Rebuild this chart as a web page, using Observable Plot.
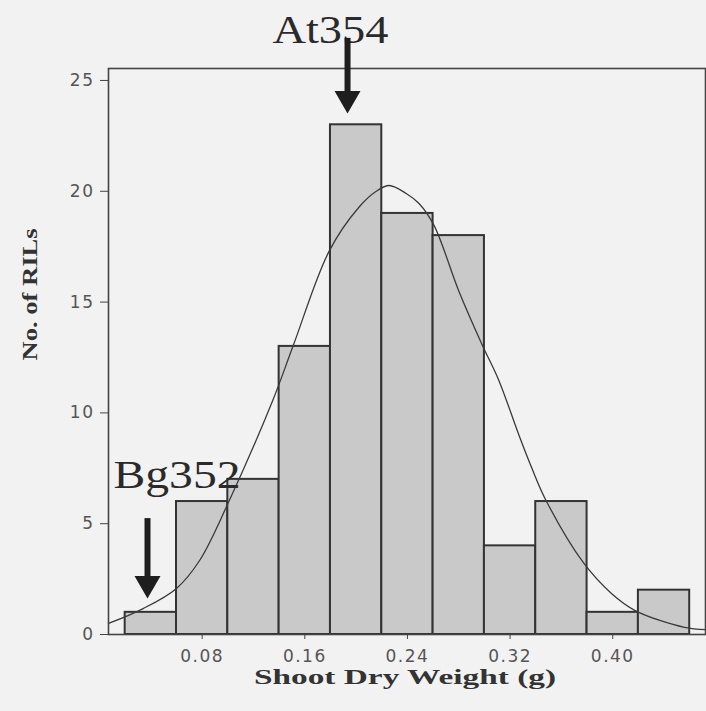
<!DOCTYPE html>
<html>
<head>
<meta charset="utf-8">
<script src="https://cdn.jsdelivr.net/npm/d3@7"></script>
<script src="https://cdn.jsdelivr.net/npm/@observablehq/plot@0.6"></script>
<style>
  html, body { margin: 0; padding: 0; background: #f2f2f2; }
  #chart svg { display: block; }
</style>
</head>
<body>
<div id="chart"></div>
<script>
// ---- data ----
const binCenters = [0.04, 0.08, 0.12, 0.16, 0.20, 0.24, 0.28, 0.32, 0.36, 0.40, 0.44];
const counts     = [1, 6, 7, 13, 23, 19, 18, 4, 6, 1, 2];
const binWidth = 0.04;

// fitted curve, points
const curveX = [0.007, 0.034, 0.060, 0.078, 0.100, 0.135, 0.151, 0.179, 0.2025, 0.2157, 0.2258, 0.239, 0.249, 0.2607, 0.280, 0.298, 0.311, 0.327, 0.337, 0.348, 0.377, 0.399, 0.4175, 0.456, 0.4723];
const curveY = [0.5, 1.17, 2.08, 3.34, 5.9, 10.56, 13.04, 17.3, 19.3, 20.0, 20.26, 19.9, 19.45, 18.46, 15.5, 13.1, 11.5, 8.98, 7.5, 6.05, 3.25, 1.85, 1.08, 0.32, 0.22];

const xTicks = [0.08, 0.16, 0.24, 0.32, 0.40];
const yTicks = [0, 5, 10, 15, 20, 25];

const annLabels = ["At354", "Bg352"];
const annTextX  = [0.180, 0.0604];
const annTextY  = [26.71, 6.63];
const arrowX     = [0.1933, 0.0374];
const arrowTop   = [26.9, 5.23];
const arrowBase  = [24.46, 2.57];
const arrowHead  = [24.19, 2.30];

const xLabel = "Shoot Dry Weight (g)";
const yLabel = "No. of RILs";

// ---- tables built from the arrays ----
const bins = binCenters.map((c, i) => ({x1: c - binWidth / 2, x2: c + binWidth / 2, count: counts[i]}));
const curve = curveX.map((x, i) => ({x, y: curveY[i]}));
const anns = annLabels.map((t, i) => ({text: t, x: annTextX[i], y: annTextY[i]}));
const arrows = arrowX.map((x, i) => ({x, top: arrowTop[i], base: arrowBase[i], head: arrowHead[i]}));

const chart = Plot.plot({
  width: 706,
  height: 711,
  marginLeft: 108,
  marginRight: 1,
  marginTop: 68,
  marginBottom: 77,
  style: {background: "#f2f2f2", fontFamily: "DejaVu Sans", fontSize: "17px", color: "#555"},
  x: {domain: [0.007, 0.4723]},
  y: {domain: [0, 25.54]},
  marks: [
    Plot.rectY(bins, {x1: "x1", x2: "x2", y1: 0, y2: "count", fill: "#c9c9c9", stroke: "#333", strokeWidth: 2}),
    Plot.line(curve, {x: "x", y: "y", curve: "catmull-rom", stroke: "#3a3a3a", strokeWidth: 1.3}),
    Plot.frame({stroke: "#444", strokeWidth: 1.6}),
    Plot.axisX({ticks: xTicks, tickFormat: d3.format(".2f"), tickSize: 5, tickPadding: 10, label: null, stroke: "#444", fill: "#555"}),
    Plot.axisY({ticks: yTicks, tickSize: 8, tickPadding: 6, label: null, stroke: "#444", fill: "#555"}),
    Plot.text(anns, {x: "x", y: "y", text: "text", lineAnchor: "bottom", fontSize: 40, fontFamily: "Liberation Serif", fill: "#2a2a2a", className: "ann"}),
    Plot.ruleX(arrows, {x: "x", y1: "top", y2: "base", stroke: "#1e1e1e", strokeWidth: 6}),
    Plot.dot(arrows, {x: "x", y: "head", symbol: "triangle", rotate: 180, r: 9.65, fill: "#1e1e1e", stroke: null}),
    Plot.text([xLabel], {frameAnchor: "bottom", lineAnchor: "bottom", dy: 49, dx: -2, fontSize: 21, fontWeight: "bold", fontFamily: "Liberation Serif", fill: "#333", className: "xlab"}),
    Plot.text([yLabel], {frameAnchor: "left", lineAnchor: "bottom", rotate: -90, dx: -72, dy: 9, fontSize: 20, fontWeight: "bold", fontFamily: "Liberation Serif", fill: "#333", className: "ylab"})
  ]
});

document.getElementById("chart").appendChild(chart);

// text stretching to match the wide lettering of the original
const annLengths = [116, 127];
const svg = d3.select(chart);
svg.selectAll(".ann text").each(function(d, i) {
  d3.select(this).attr("textLength", annLengths[i]).attr("lengthAdjust", "spacingAndGlyphs");
});
svg.selectAll(".xlab text").attr("textLength", 302).attr("lengthAdjust", "spacingAndGlyphs");
svg.selectAll(".ylab text").attr("textLength", 132).attr("lengthAdjust", "spacingAndGlyphs");
svg.selectAll('[aria-label="x-axis tick label"] text, [aria-label="y-axis tick label"] text').attr("letter-spacing", "1.5px");
</script>
</body>
</html>
